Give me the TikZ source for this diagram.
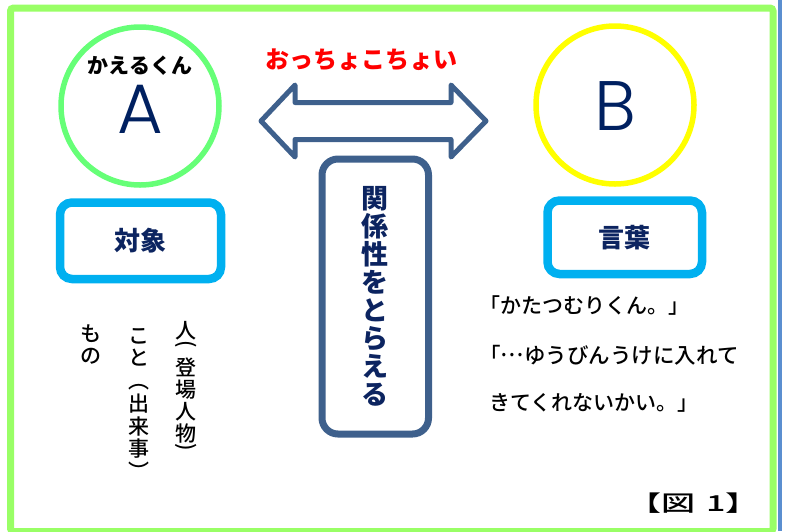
\documentclass[tikz,border=0pt]{standalone}
\usepackage{fontspec}
\usepackage{graphicx}
\newfontfamily\jp{Noto Sans CJK JP}
\IfFontExistsTF{Noto Sans CJK JP Black}{\newfontfamily\jpb{Noto Sans CJK JP Black}}{\newcommand{\jpb}{\jp\bfseries}}
\IfFontExistsTF{Noto Sans CJK JP Medium}{\newfontfamily\jpm{Noto Sans CJK JP Medium}}{\newcommand{\jpm}{\jp}}
\IfFontExistsTF{Poppins Light}{\newfontfamily\pop{Poppins Light}}{\newfontfamily\pop{Poppins}}
\definecolor{framegreen}{RGB}{153,255,102}
\definecolor{edgeblue}{RGB}{91,143,208}
\definecolor{circgreen}{RGB}{102,255,119}
\definecolor{circyellow}{RGB}{255,255,0}
\definecolor{steel}{RGB}{62,96,140}
\definecolor{cyanbox}{RGB}{0,176,240}
\definecolor{navy}{RGB}{0,32,96}
\definecolor{textnavy}{RGB}{12,36,96}
\newcommand{\vparL}{\rotatebox{-90}{(}}
\newcommand{\vparR}{\rotatebox{-90}{)}}
\newcommand{\fwell}{\makebox[1.1em][c]{\raisebox{0.28em}{…}}}
\begin{document}
\begin{tikzpicture}[x=1pt,y=-1pt,
  ringstyle/.style={circle,line width=5.5pt,minimum size=158pt,inner sep=0pt},
  cbox/.style={draw=cyanbox,line width=8.5pt,rounded corners=12pt,inner sep=0pt,font=\jpb\fontsize{26}{28}\selectfont,text=textnavy},
  vcol/.style={align=center,inner sep=0pt,anchor=north},
  rline/.style={anchor=base west,inner sep=0pt,font=\jpm\fontsize{21}{22}\selectfont},
  letterstyle/.style={font=\pop\fontsize{70}{72}\selectfont,text=navy,anchor=base,inner sep=0pt}]
\useasboundingbox (0,0) rectangle (786,531);
\draw[framegreen,line width=7pt,rounded corners=3pt] (10.5,8) rectangle (773,531.5);
\draw[edgeblue,line width=4pt] (779.5,0) -- (779.5,531);
\node[ringstyle,draw=circgreen] (ca) at (140,106) {};
\node[ringstyle,draw=circyellow] (cb) at (615,105) {};
\node[font=\jp\bfseries\fontsize{21}{22}\selectfont] (kaeru) at (140,66) {かえるくん};
\node[letterstyle] (A) at (140,133) {A};
\node[letterstyle] (B) at (615,130) {B};
\node[font=\jp\bfseries\fontsize{24}{26}\selectfont,text=red] (occho) at (361,60) {おっちょこちょい};
\draw[steel,line width=5pt,line join=round,fill=white] (261,121) -- (295,85) -- (295,102.5) -- (451,102.5) -- (451,85) -- (486,121) -- (451,157) -- (451,139.5) -- (295,139.5) -- (295,157) -- cycle;
\node[draw=steel,line width=7pt,rounded corners=16pt,minimum width=106.5pt,minimum height=275pt,inner sep=0pt,align=center,font=\jpb\fontsize{27}{28}\selectfont,text=textnavy] (rel) at (375.25,296.5) {関\\係\\性\\を\\と\\ら\\え\\る};
\node[cbox,minimum width=161pt,minimum height=76.5pt] (taisho) at (140.5,240.75) {対象};
\node[cbox,minimum width=154.5pt,minimum height=73.5pt] (kotoba) at (624.75,237.25) {言葉};
\node[vcol,font=\jpm\fontsize{21}{22}\selectfont] (c1) at (186,321) {人\\[-20pt]\vparL\\[9pt]登\\場\\人\\物\\[-20pt]\vparR};
\node[vcol,font=\jpm\fontsize{21}{22.7}\selectfont] (c2) at (139,328) {こ\\と\\︵\\出\\来\\事\\︶};
\node[vcol,font=\jpm\fontsize{21}{22}\selectfont] (c3) at (91,325) {も\\の};
\node[rline] (q1) at (479,313) {「かたつむりくん。」};
\node[rline,font=\jpm\fontsize{21.5}{22}\selectfont] (q2) at (479,363) {「\fwell ゆうびんうけに入れて};
\node[rline] (q3) at (489,410) {きてくれないかい。」};
\node[font=\jpm\fontsize{22}{24}\selectfont,anchor=base,inner sep=0pt] (fig) at (693.5,511) {\scalebox{1.55}[1]{【図\hspace{0.1em} 1】}};
\end{tikzpicture}
\end{document}
